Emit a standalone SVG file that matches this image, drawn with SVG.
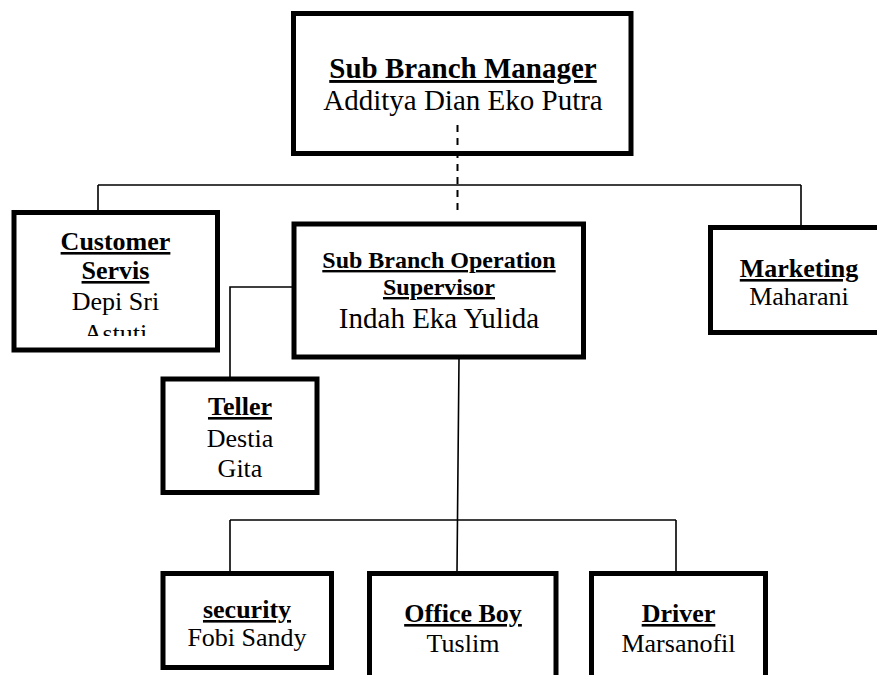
<svg xmlns="http://www.w3.org/2000/svg" width="877" height="675" viewBox="0 0 877 675">
<style>
.box{fill:#fff;stroke:#000;stroke-width:5}
.t{font-family:"Liberation Serif","Times New Roman",serif;fill:#000;text-anchor:middle}
.b{font-weight:bold;text-decoration:underline}
.c{fill:none;stroke:#000;stroke-width:1.6}
.d{fill:none;stroke:#000;stroke-width:2;stroke-dasharray:7 6}
</style>
<defs>
<clipPath id="csclip"><rect x="16" y="215" width="199" height="121"/></clipPath>
</defs>
<rect width="877" height="675" fill="#fff"/>
<g id="connectors">
<path class="c" d="M98 185H801M98 185V210M801 185V225"/>
<path class="c" d="M293 287H230V377"/>
<path class="c" d="M459 359L457 571M230 520H676M230 520V571M676 520V571"/>
</g>
<g id="mgr">
<rect class="box" x="293.5" y="13.5" width="337.5" height="140"/>
<text class="t b" x="463" y="78" font-size="29">Sub Branch Manager</text>
<text class="t" x="463" y="110" font-size="29">Additya Dian Eko Putra</text>
</g>
<g id="cs">
<rect class="box" x="14" y="212.5" width="203.5" height="137.5"/>
<text class="t b" x="115.5" y="250" font-size="26">Customer</text>
<text class="t b" x="115.5" y="279" font-size="26">Servis</text>
<text class="t" x="115.5" y="310" font-size="26">Depi Sri</text>
<text class="t" x="115.5" y="342" font-size="26" clip-path="url(#csclip)">Astuti</text>
</g>
<g id="sup">
<rect class="box" x="294" y="224" width="289.5" height="133"/>
<text class="t b" x="439" y="268" font-size="24">Sub Branch Operation</text>
<text class="t b" x="439" y="295" font-size="24">Supervisor</text>
<text class="t" x="439" y="328" font-size="29">Indah Eka Yulida</text>
</g>
<g id="mkt">
<rect class="box" x="710.5" y="227.5" width="180" height="105"/>
<text class="t b" x="799" y="277" font-size="26">Marketing</text>
<text class="t" x="799" y="305" font-size="26">Maharani</text>
</g>
<g id="teller">
<rect class="box" x="163" y="379" width="154" height="113.5"/>
<text class="t b" x="240" y="415" font-size="26">Teller</text>
<text class="t" x="240" y="447" font-size="26">Destia</text>
<text class="t" x="240" y="477" font-size="26">Gita</text>
</g>
<g id="security">
<rect class="box" x="163" y="573.5" width="168.5" height="94"/>
<text class="t b" x="247" y="618" font-size="26">security</text>
<text class="t" x="247" y="646" font-size="26">Fobi Sandy</text>
</g>
<g id="officeboy">
<rect class="box" x="369.5" y="573.5" width="186.5" height="120"/>
<text class="t b" x="463" y="622" font-size="26">Office Boy</text>
<text class="t" x="463" y="652" font-size="26">Tuslim</text>
</g>
<g id="driver">
<rect class="box" x="591.5" y="573.5" width="174" height="120"/>
<text class="t b" x="678.5" y="622" font-size="26">Driver</text>
<text class="t" x="678.5" y="652" font-size="26">Marsanofil</text>
</g>
<path class="d" d="M457.5 125V213"/>
</svg>
